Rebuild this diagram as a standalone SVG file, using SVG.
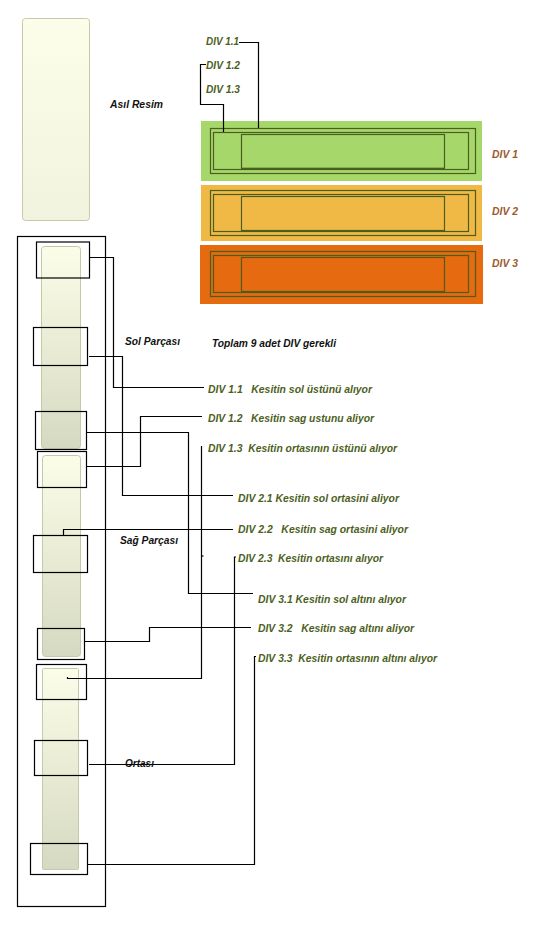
<svg xmlns="http://www.w3.org/2000/svg" width="537" height="928" viewBox="0 0 537 928">
<defs>
<linearGradient id="gAsil" x1="0" y1="0" x2="0" y2="1"><stop offset="0" stop-color="#fdfee9"/><stop offset="1" stop-color="#f2f3df"/></linearGradient>
<linearGradient id="gStrip" x1="0" y1="0" x2="0" y2="1"><stop offset="0" stop-color="#fcfde8"/><stop offset="1" stop-color="#d6d9c1"/></linearGradient>
</defs>
<style>
text{font-family:"Liberation Sans",Arial,sans-serif;font-weight:bold;font-style:italic;font-size:11.5px;white-space:pre}
.blk{fill:#111}
.grn{fill:#4b601c}
.brn{fill:#9b5a2e}
.frame{fill:none;stroke:#4b5e1e;stroke-width:1.2}
.sel{fill:none;stroke:#000;stroke-width:1.2}
.con{fill:none;stroke:#000;stroke-width:1.2}
.strip{fill:url(#gStrip);stroke:#c6c9a9;stroke-width:1}
</style>

<g id="asil-resim">
<rect x="22.5" y="18.5" width="67" height="202" rx="3" fill="url(#gAsil)" stroke="#c8c9ab"/>
<text class="blk" x="110" y="108" textLength="53" lengthAdjust="spacingAndGlyphs">Asıl Resim</text>
</g>

<g id="div1">
<rect x="201" y="121" width="281" height="60" fill="#a6d76a"/>
<rect class="frame" x="210.5" y="128.5" width="265" height="45"/>
<rect class="frame" x="213.5" y="132.5" width="255" height="37"/>
<rect class="frame" x="241.5" y="134.5" width="203" height="34"/>
<line x1="241" y1="168.5" x2="445" y2="168.5" stroke="#4b5e1e" stroke-width="1.5"/>
<text class="brn" x="492" y="158" textLength="26" lengthAdjust="spacingAndGlyphs">DIV 1</text>
</g>

<g id="div2">
<rect x="201" y="185" width="281" height="56" fill="#f0b946"/>
<rect class="frame" x="210.5" y="190.5" width="265" height="45"/>
<rect class="frame" x="213.5" y="194.5" width="255" height="37"/>
<rect class="frame" x="241.5" y="196.5" width="203" height="34"/>
<text class="brn" x="492" y="215" textLength="26" lengthAdjust="spacingAndGlyphs">DIV 2</text>
</g>

<g id="div3">
<rect x="200" y="245" width="283" height="59" fill="#e56a10"/>
<rect class="frame" x="210.5" y="251.5" width="265" height="45"/>
<rect class="frame" x="213.5" y="255.5" width="255" height="37"/>
<rect class="frame" x="241.5" y="257.5" width="203" height="34"/>
<text class="brn" x="492" y="267" textLength="26" lengthAdjust="spacingAndGlyphs">DIV 3</text>
</g>

<g id="top-labels">
<text class="grn" x="206" y="45" textLength="33" lengthAdjust="spacingAndGlyphs">DIV 1.1</text>
<text class="grn" x="206" y="69" textLength="34" lengthAdjust="spacingAndGlyphs">DIV 1.2</text>
<text class="grn" x="206" y="93" textLength="34" lengthAdjust="spacingAndGlyphs">DIV 1.3</text>
</g>

<g id="kesit">
<rect x="17.5" y="236.5" width="88" height="670" fill="none" stroke="#000" stroke-width="1.2"/>
<rect class="strip" x="41.5" y="246.5" width="39" height="202" rx="3"/>
<rect class="strip" x="42.5" y="455.5" width="38" height="201" rx="3"/>
<rect class="strip" x="42.5" y="668.5" width="36" height="201" rx="1"/>
</g>

<g id="selections">
<rect class="sel" x="36.5" y="242" width="53" height="36"/>
<rect class="sel" x="33.5" y="327.5" width="54" height="38"/>
<rect class="sel" x="35.5" y="411.5" width="51" height="38"/>
<rect class="sel" x="37.5" y="451.5" width="49" height="36"/>
<rect class="sel" x="33.5" y="535.5" width="54" height="37"/>
<rect class="sel" x="37.5" y="628.5" width="47" height="31"/>
<rect class="sel" x="36.5" y="664.5" width="50" height="35"/>
<rect class="sel" x="34.5" y="740.5" width="53" height="35"/>
<rect class="sel" x="30.5" y="843.5" width="57" height="31"/>
</g>

<g id="connectors">
<path class="con" d="M239,42.5 H258.5 V128"/>
<path class="con" d="M206,64.5 H200.5 V104.5 H223.5 V132"/>
<path class="con" d="M89,257.5 H113.5 V387.5 H204"/>
<path class="con" d="M89,356.5 H122.5 V495.5 H233"/>
<path class="con" d="M202,416.5 H140.5 V466.5 H87"/>
<path class="con" d="M87,432.5 H188.5 V593.5 H253"/>
<path class="con" d="M63.5,535 V529.5 H233"/>
<path class="con" d="M201.5,446 V678.5 H67.5 V677"/>
<path class="con" d="M201.5,556 H203.5"/>
<path class="con" d="M236,557 H234.5 V764.5 H89"/>
<path class="con" d="M251,627.5 H149.5 V641.5 H85"/>
<path class="con" d="M256,656.5 H254.5 V864.5 H87"/>
</g>

<g id="labels">
<text class="blk" x="125" y="345" textLength="55" lengthAdjust="spacingAndGlyphs">Sol Parçası</text>
<text class="blk" x="212" y="347" textLength="124" lengthAdjust="spacingAndGlyphs">Toplam 9 adet DIV gerekli</text>
<text class="blk" x="120" y="544" textLength="58" lengthAdjust="spacingAndGlyphs">Sağ Parçası</text>
<text class="blk" x="125" y="767" textLength="29" lengthAdjust="spacingAndGlyphs">Ortası</text>
<text class="grn" x="208" y="393" textLength="164" lengthAdjust="spacingAndGlyphs">DIV 1.1   Kesitin sol üstünü alıyor</text>
<text class="grn" x="208" y="422" textLength="166" lengthAdjust="spacingAndGlyphs">DIV 1.2   Kesitin sag ustunu aliyor</text>
<text class="grn" x="208" y="452" textLength="189" lengthAdjust="spacingAndGlyphs">DIV 1.3  Kesitin ortasının üstünü alıyor</text>
<text class="grn" x="238" y="502" textLength="161" lengthAdjust="spacingAndGlyphs">DIV 2.1 Kesitin sol ortasini aliyor</text>
<text class="grn" x="238" y="533" textLength="170" lengthAdjust="spacingAndGlyphs">DIV 2.2   Kesitin sag ortasini aliyor</text>
<text class="grn" x="238" y="562" textLength="145" lengthAdjust="spacingAndGlyphs">DIV 2.3  Kesitin ortasını alıyor</text>
<text class="grn" x="258" y="603" textLength="148" lengthAdjust="spacingAndGlyphs">DIV 3.1 Kesitin sol altını alıyor</text>
<text class="grn" x="258" y="632" textLength="156" lengthAdjust="spacingAndGlyphs">DIV 3.2   Kesitin sag altını aliyor</text>
<text class="grn" x="258" y="662" textLength="179" lengthAdjust="spacingAndGlyphs">DIV 3.3  Kesitin ortasının altını alıyor</text>
</g>
</svg>
